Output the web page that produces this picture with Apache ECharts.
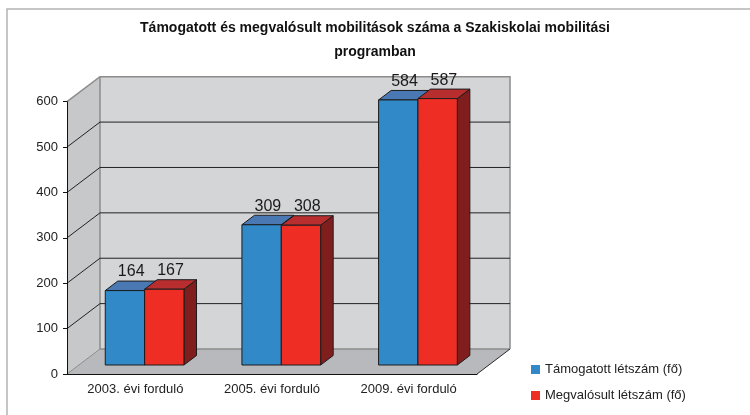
<!DOCTYPE html>
<html><head><meta charset="utf-8">
<script src="https://cdn.jsdelivr.net/npm/echarts@6/dist/echarts.min.js"></script>
<style>html,body{margin:0;padding:0;background:#fff}#c{width:750px;height:415px}</style>
</head><body><div id="c"></div>
<script>
const titleText = 'Támogatott és megvalósult mobilitások száma a Szakiskolai mobilitási\nprogramban';
const categories = ['2003. évi forduló', '2005. évi forduló', '2009. évi forduló'];
const seriesNames = ['Támogatott létszám (fő)', 'Megvalósult létszám (fő)'];
const supported = [164, 309, 584];
const realized = [167, 308, 587];
const yTicks = [0, 100, 200, 300, 400, 500, 600];

const FONT = "'Liberation Sans', Arial, sans-serif";
const DX = 33, DY = 25;          // depth of the 3D box (px)
const D1 = 0.36, D2 = 0.74;      // bar front/back depth fraction
const SLOTS = [[0.193, 0.481], [0.481, 0.769]];
const PALETTE = [
  {front: '#3289c8', top: '#4a78b2', side: '#245a92'},
  {front: '#ee2e24', top: '#b82e2e', side: '#801e1e'}
];

function barRender(slot) {
  const col = PALETTE[slot];
  return function (params, api) {
    const cat = api.value(0), v = api.value(1);
    const c0 = api.coord([cat, 0]);
    const ct = api.coord([cat, v]);
    const bw = api.size([1, 0])[0];
    const bs = c0[0] - bw / 2;
    const x1 = bs + SLOTS[slot][0] * bw + D1 * DX;
    const x2 = bs + SLOTS[slot][1] * bw + D1 * DX;
    const yb = c0[1] - D1 * DY;
    const yt = ct[1] - D1 * DY;
    const ddx = (D2 - D1) * DX, ddy = (D2 - D1) * DY;
    const st = {stroke: '#1c1c1c', lineWidth: 1};
    return {
      type: 'group',
      children: [
        {type: 'polygon', shape: {points: [[x2, yt], [x2 + ddx, yt - ddy], [x2 + ddx, yb - ddy], [x2, yb]]},
          style: Object.assign({fill: col.side}, st)},
        {type: 'polygon', shape: {points: [[x1, yt], [x2, yt], [x2 + ddx, yt - ddy], [x1 + ddx, yt - ddy]]},
          style: Object.assign({fill: col.top}, st)},
        {type: 'polygon', shape: {points: [[x1, yt], [x2, yt], [x2, yb], [x1, yb]]},
          style: Object.assign({fill: col.front}, st)},
        {type: 'text', style: {text: String(v), x: (x1 + x2) / 2 + ddx / 2, y: yt - ddy - 9,
          align: 'center', verticalAlign: 'middle', font: '16px ' + FONT, fill: '#1a1a1a'}}
      ]
    };
  };
}

function wallRender(params, api) {
  const t = api.value(1);
  const bw = api.size([1, 0])[0];
  const L = api.coord([0, 0])[0] - bw / 2;
  const R = api.coord([categories.length - 1, 0])[0] + bw / 2;
  const y0 = api.coord([0, yTicks[0]])[1];
  const yM = api.coord([0, yTicks[yTicks.length - 1]])[1];
  const y = api.coord([0, t])[1];
  const children = [];
  const gray = '#8c8c8c';
  if (params.dataIndex === 0) {
    children.push(
      {type: 'polygon', shape: {points: [[L, yM], [L + DX, yM - DY], [L + DX, y0 - DY], [L, y0]]}, style: {fill: '#c7c8ca'}},
      {type: 'polygon', shape: {points: [[L + DX, yM - DY], [R + DX, yM - DY], [R + DX, y0 - DY], [L + DX, y0 - DY]]}, style: {fill: '#d4d5d7'}},
      {type: 'polygon', shape: {points: [[L, y0], [L + DX, y0 - DY], [R + DX, y0 - DY], [R, y0]]}, style: {fill: '#b8b9bc'}},
      {type: 'polyline', shape: {points: [[L, yM], [L + DX, yM - DY], [R + DX, yM - DY], [R + DX, y0 - DY]]}, style: {stroke: gray, lineWidth: 1.5, fill: null}},
      {type: 'polyline', shape: {points: [[L + DX, yM - DY], [L + DX, y0 - DY], [R + DX, y0 - DY]]}, style: {stroke: gray, lineWidth: 1.5, fill: null}},
      {type: 'line', shape: {x1: L, y1: y0, x2: L + DX, y2: y0 - DY}, style: {stroke: gray, lineWidth: 1}},
      {type: 'line', shape: {x1: R, y1: y0, x2: R + DX, y2: y0 - DY}, style: {stroke: '#2a2a2a', lineWidth: 1}}
    );
  } else if (t !== yTicks[yTicks.length - 1]) {
    children.push({type: 'polyline', shape: {points: [[L, y], [L + DX, y - DY], [R + DX, y - DY]]},
      style: {stroke: '#222', lineWidth: 1, fill: null}});
  }
  return {type: 'group', children: children};
}

const chart = echarts.init(document.getElementById('c'));
chart.setOption({
  animation: false,
  backgroundColor: '#fff',
  title: {
    text: titleText, left: 'center', top: 11,
    textStyle: {fontFamily: FONT, fontSize: 14, fontWeight: 'bold', color: '#111', lineHeight: 24}
  },
  graphic: [{type: 'rect', shape: {x: 7, y: 9, width: 800, height: 500}, style: {fill: null, stroke: '#b4b4b4', lineWidth: 1.5}, z: -1}],
  legend: {
    orient: 'vertical', left: 531, top: 363, padding: 0, itemWidth: 9, itemHeight: 9, itemGap: 13,
    icon: 'rect', data: seriesNames,
    textStyle: {fontFamily: FONT, fontSize: 13, color: '#222'}
  },
  grid: {left: 67, top: 101.7, width: 410, height: 272.3},
  xAxis: {
    type: 'category', data: categories, z: 10,
    axisLine: {lineStyle: {color: '#111', width: 1}},
    axisTick: {length: 4, lineStyle: {color: '#111'}},
    axisLabel: {fontFamily: FONT, fontSize: 13, color: '#222', margin: 9},
    splitLine: {show: false}
  },
  yAxis: {
    type: 'value', min: 0, max: 600, interval: 100, z: 10,
    axisLine: {show: true, lineStyle: {color: '#111', width: 1}},
    axisTick: {show: true, length: 4, lineStyle: {color: '#111'}},
    axisLabel: {fontFamily: FONT, fontSize: 13, color: '#222', margin: 9},
    splitLine: {show: false}
  },
  series: [
    {type: 'custom', name: 'walls', z: 1, clip: false, silent: true,
      renderItem: wallRender, data: yTicks.map(t => [0, t])},
    {type: 'custom', name: seriesNames[0], z: 3, clip: false, itemStyle: {color: PALETTE[0].front},
      renderItem: barRender(0), data: supported.map((v, i) => [i, v])},
    {type: 'custom', name: seriesNames[1], z: 4, clip: false, itemStyle: {color: PALETTE[1].front},
      renderItem: barRender(1), data: realized.map((v, i) => [i, v])}
  ]
});
</script>
</body></html>
